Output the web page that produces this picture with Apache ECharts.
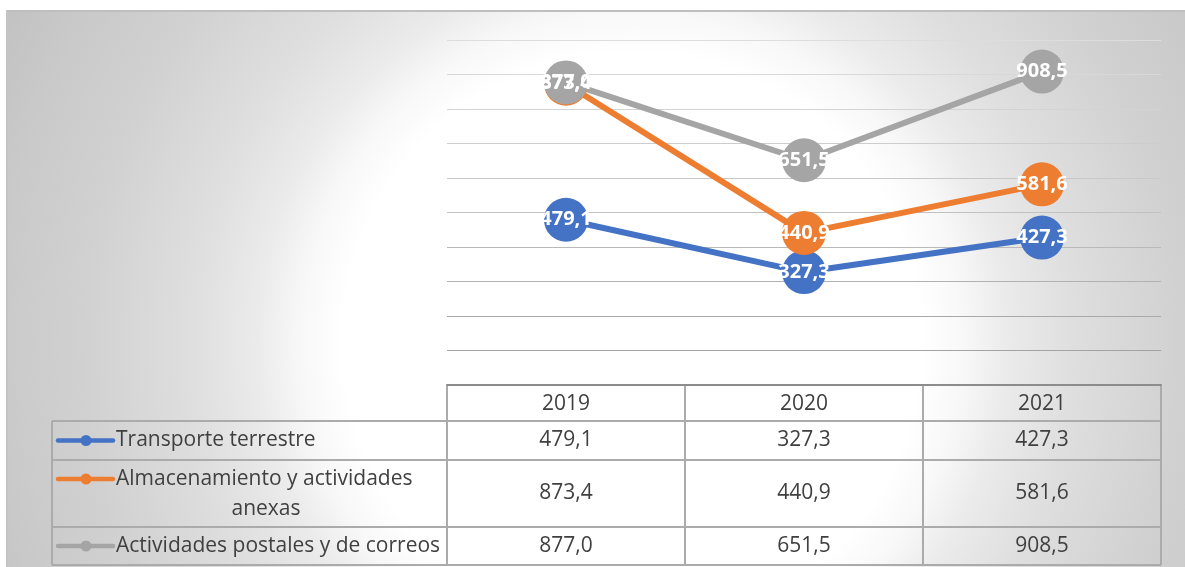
<!DOCTYPE html>
<html>
<head>
<meta charset="utf-8">
<script src="https://cdn.jsdelivr.net/npm/echarts@6/dist/echarts.min.js"></script>
<style>
  html, body { margin: 0; padding: 0; background: #fff; }
  .frame {
    position: absolute; left: 6px; top: 10px; width: 1179px; height: 557px;
    box-sizing: border-box;
    border-top: 2px solid #bfbfbf; border-left: 2px solid #c4c4c4;
    background: radial-gradient(circle 720px at 624px 330px,
      #ffffff 0%, #ffffff 40%, #f8f8f8 46%, #ebebeb 52%, #dfdfdf 61%,
      #d1d1d1 76%, #cacaca 87.5%, #c3c3c3 97%, #c0c0c0 100%);
  }
  #chart { position: absolute; left: 0; top: 0; width: 1185px; height: 567px; }
</style>
</head>
<body>
<div class="frame"></div>
<div id="chart"></div>
<script>
// datos
const years = ['2019', '2020', '2021']
const seriesNames = ['Transporte terrestre', 'Almacenamiento y actividades anexas', 'Actividades postales y de correos']
const transporte = [479.1, 327.3, 427.3]
const almacenamiento = [873.4, 440.9, 581.6]
const postales = [877.0, 651.5, 908.5]
const yTicks = [0, 100, 200, 300, 400, 500, 600, 700, 800, 900, 1000]

const colors = ['#4472C4', '#ED7D31', '#A5A5A5']
const values = [transporte, almacenamiento, postales]
// legend text in the table, wrapped like excel does
const legendLines = [['Transporte terrestre'], ['Almacenamiento y actividades', 'anexas'], ['Actividades postales y de correos']]

const fmt = v => v.toFixed(1).replace('.', ',')
const gridColors = ['#8c8c8c', '#a3a3a3', '#a9a9a9', '#b1b1b1', '#b9b9b9', '#c1c1c1', '#c8c8c8', '#cdcdcd', '#d3d3d3', '#d8d8d8', '#dddddd']

const chart = echarts.init(document.getElementById('chart'))

let option = {
  backgroundColor: 'transparent',
  animation: false,
  grid: { left: 447, right: 24, top: 40, bottom: 182 },
  xAxis: {
    type: 'category',
    data: years,
    boundaryGap: true,
    axisLabel: { show: false },
    axisTick: { show: false },
    axisLine: { show: true, lineStyle: { color: '#8c8c8c', width: 2 } }
  },
  yAxis: {
    type: 'value',
    min: yTicks[0],
    max: yTicks[yTicks.length - 1],
    interval: yTicks[1] - yTicks[0],
    axisLabel: { show: false },
    axisTick: { show: false },
    axisLine: { show: false },
    splitLine: { lineStyle: { color: gridColors, width: 1 } }
  },
  series: values.map((vals, i) => ({
    name: seriesNames[i],
    type: 'line',
    data: vals,
    symbol: 'circle',
    symbolSize: 44,
    showSymbol: true,
    lineStyle: { color: colors[i], width: 6 },
    itemStyle: { color: colors[i] },
    emphasis: { disabled: true },
    label: {
      show: true,
      position: 'inside',
      color: '#fff',
      fontFamily: 'Open Sans',
      fontWeight: 'bold',
      fontSize: 20,
      textBorderWidth: 0,
      formatter: p => fmt(p.value)
    }
  }))
}
chart.setOption(option)

// data table under the plot
const colX = years.map((y, i) => chart.convertToPixel({ xAxisIndex: 0 }, i))
const band = colX[1] - colX[0]
const tLeft = 52
const plotLeft = colX[0] - band / 2
const tRight = colX[colX.length - 1] + band / 2
const yTop = chart.convertToPixel({ yAxisIndex: 0 }, 0)
const rowH = [36, 39, 67, 38]
const rowY = [yTop]
rowH.forEach(h => rowY.push(rowY[rowY.length - 1] + h))

const lineCol = '#ababab'
const txtFont = '21px "Open Sans"'
const txtCol = '#404040'
let g = []

// horizontal lines
for (let r = 1; r < rowY.length; r++) {
  g.push({ type: 'line', shape: { x1: tLeft, y1: rowY[r], x2: tRight, y2: rowY[r] }, style: { stroke: lineCol, lineWidth: 2 } })
}
// vertical lines
g.push({ type: 'line', shape: { x1: tLeft, y1: rowY[1], x2: tLeft, y2: rowY[4] }, style: { stroke: lineCol, lineWidth: 2 } })
for (let c = 0; c <= years.length; c++) {
  const x = plotLeft + band * c
  g.push({ type: 'line', shape: { x1: x, y1: rowY[0], x2: x, y2: rowY[4] }, style: { stroke: lineCol, lineWidth: 2 } })
}
// header
years.forEach((y, i) => {
  g.push({ type: 'text', style: { text: y, x: colX[i], y: (rowY[0] + rowY[1]) / 2 + 1, align: 'center', verticalAlign: 'middle', font: txtFont, fill: txtCol } })
})
// rows
values.forEach((vals, s) => {
  const top = rowY[s + 1], bot = rowY[s + 2]
  const mid = (top + bot) / 2
  const lines = legendLines[s]
  const firstY = lines.length > 1 ? top + 19 : mid
  // legend key
  g.push({ type: 'line', shape: { x1: 58, y1: firstY, x2: 113, y2: firstY }, style: { stroke: colors[s], lineWidth: 4.5, lineCap: 'round' } })
  g.push({ type: 'circle', shape: { cx: 86, cy: firstY, r: 5.5 }, style: { fill: colors[s] } })
  lines.forEach((t, k) => {
    if (k === 0) {
      g.push({ type: 'text', style: { text: t, x: 116, y: firstY, align: 'left', verticalAlign: 'middle', font: txtFont, fill: txtCol } })
    } else {
      g.push({ type: 'text', style: { text: t, x: 266, y: firstY + 30 * k, align: 'center', verticalAlign: 'middle', font: txtFont, fill: txtCol } })
    }
  })
  vals.forEach((v, i) => {
    g.push({ type: 'text', style: { text: fmt(v), x: colX[i], y: mid, align: 'center', verticalAlign: 'middle', font: txtFont, fill: txtCol } })
  })
})
chart.setOption({ graphic: { elements: g } })
</script>
</body>
</html>
